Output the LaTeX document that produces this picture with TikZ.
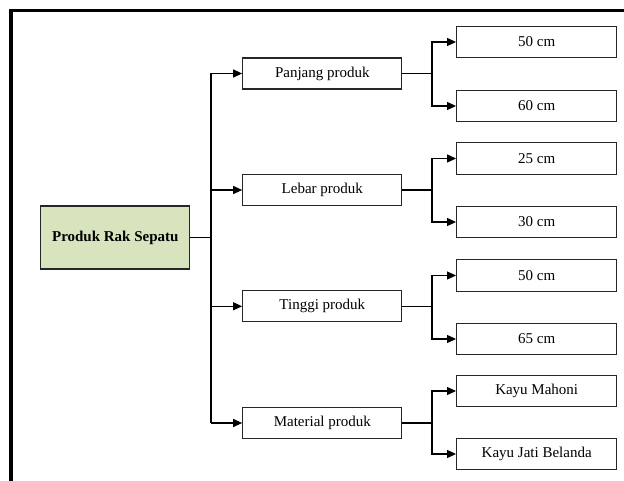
\documentclass[tikz,border=0pt]{standalone}
\usepackage{fontspec}
\setmainfont{Liberation Serif}
\usetikzlibrary{arrows.meta}
\definecolor{rootfill}{HTML}{D7E4BD}
\definecolor{boxline}{HTML}{262626}
\tikzset{
  rootbox/.style={draw=boxline, line width=1.3pt, fill=rootfill, minimum width=149pt, minimum height=63pt, inner sep=0pt, font=\fontsize{15}{18}\selectfont\bfseries},
  catbox/.style={draw=boxline, line width=1.3pt, fill=white, minimum width=159pt, minimum height=31pt, inner sep=0pt, font=\fontsize{15}{18}\selectfont},
  valbox/.style={draw=boxline, line width=1.3pt, fill=white, minimum width=160pt, minimum height=31.5pt, inner sep=0pt, font=\fontsize{15}{18}\selectfont},
  conn/.style={draw=black, line width=1.1pt},
  arr/.style={conn, -{Triangle[length=9pt,width=8pt]}},
  frame/.style={draw=black, line width=3.5pt}
}
\begin{document}
\begin{tikzpicture}[x=1pt,y=-1pt]
\useasboundingbox (0,0) rectangle (624,481);
% frame
\coordinate (fa) at (11,481);
\coordinate (fb) at (11,10.5);
\coordinate (fc) at (624,10.5);
\draw[frame] (fa) -- (fb) -- (fc);
% nodes
\node[rootbox] (root) at (115.3,237.5) {Produk Rak Sepatu};
\node[catbox] (c1) at (322.3,73.5) {Panjang produk};
\node[catbox] (c2) at (322.3,190) {Lebar produk};
\node[catbox] (c3) at (322.3,306.3) {Tinggi produk};
\node[catbox] (c4) at (322.3,423) {Material produk};
\node[valbox] (v11) at (536.7,42) {50 cm};
\node[valbox] (v12) at (536.7,106) {60 cm};
\node[valbox] (v21) at (536.7,158.5) {25 cm};
\node[valbox] (v22) at (536.7,222) {30 cm};
\node[valbox] (v31) at (536.7,275.5) {50 cm};
\node[valbox] (v32) at (536.7,339) {65 cm};
\node[valbox] (v41) at (536.7,391) {Kayu Mahoni};
\node[valbox] (v42) at (536.7,454) {Kayu Jati Belanda};
% trunk
\coordinate (tr) at (211,237.5);
\draw[conn] (root.east) -- (tr);
\foreach \c in {c1,c2,c3,c4}{
  \draw[arr] (tr |- \c.west) -- (\c.west);
}
\draw[conn] (tr |- c1.west) -- (tr |- c4.west);
% branches
\foreach \c/\a/\b in {c1/v11/v12, c2/v21/v22, c3/v31/v32, c4/v41/v42}{
  \coordinate (br) at (432,0);
  \draw[conn] (\c.east) -- (br |- \c.east);
  \draw[arr] (br |- \c.east) |- (\a.west);
  \draw[arr] (br |- \c.east) |- (\b.west);
}
\end{tikzpicture}
\end{document}
